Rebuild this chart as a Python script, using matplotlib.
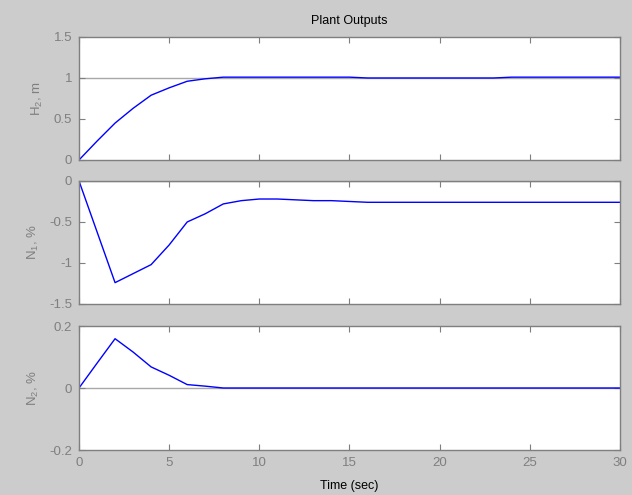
import matplotlib
matplotlib.use("Agg")
import matplotlib.pyplot as plt

# Simulated plant outputs, sampled each second
time_s = [0, 1, 2, 3, 4, 5, 6, 7, 8, 9, 10, 11, 12, 13, 14, 15, 16, 17, 18, 19, 20,
          21, 22, 23, 24, 25, 26, 27, 28, 29, 30]
h2_m = [0.0, 0.23, 0.45, 0.63, 0.79, 0.88, 0.96, 0.99, 1.01, 1.01, 1.01, 1.01, 1.01,
        1.01, 1.01, 1.01, 1.0, 1.0, 1.0, 1.0, 1.0, 1.0, 1.0, 1.0, 1.01, 1.01, 1.01,
        1.01, 1.01, 1.01, 1.01]
n1_pct = [0.0, -0.62, -1.24, -1.13, -1.02, -0.78, -0.50, -0.40, -0.28, -0.24, -0.22,
          -0.22, -0.23, -0.24, -0.24, -0.25, -0.26, -0.26, -0.26, -0.26, -0.26, -0.26,
          -0.26, -0.26, -0.26, -0.26, -0.26, -0.26, -0.26, -0.26, -0.26]
n2_pct = [0.0, 0.08, 0.159, 0.116, 0.068, 0.041, 0.011, 0.006, 0.0, 0.0, 0.0, 0.0,
          0.0, 0.0, 0.0, 0.0, 0.0, 0.0, 0.0, 0.0, 0.0, 0.0, 0.0, 0.0, 0.0, 0.0, 0.0,
          0.0, 0.0, 0.0, 0.0]

x_ticks = [0, 5, 10, 15, 20, 25, 30]
panels = [
    ("H$_2$, m", h2_m, (0, 1.5), [0, 0.5, 1, 1.5], ["0", "0.5", "1", "1.5"], 1.0),
    ("N$_1$, %", n1_pct, (-1.5, 0), [-1.5, -1, -0.5, 0], ["-1.5", "-1", "-0.5", "0"], 0.0),
    ("N$_2$, %", n2_pct, (-0.2, 0.2), [-0.2, 0, 0.2], ["-0.2", "0", "0.2"], 0.0),
]

bg = "#cccccc"
edge = "#7f7f7f"
plt.rcParams["font.family"] = ["Liberation Sans", "DejaVu Sans"]
plt.rcParams["font.size"] = 9.5
plt.rcParams["mathtext.fontset"] = "custom"
plt.rcParams["mathtext.rm"] = "Liberation Sans"
plt.rcParams["mathtext.it"] = "Liberation Sans"

fig = plt.figure(figsize=(6.32, 4.95), dpi=100, facecolor=bg)
boxes = [
    [0.125, 0.6768, 0.856, 0.2485],
    [0.125, 0.3859, 0.856, 0.2485],
    [0.125, 0.0909, 0.856, 0.2505],
]

axes = []
for box, (label, values, ylim, yt, ytl, ref) in zip(boxes, panels):
    ax = fig.add_axes(box)
    ax.set_facecolor("white")
    ax.axhline(ref, color="#a8a8a8", lw=1.0, zorder=1)
    ax.plot(time_s, values, color="#0000ff", lw=1.0, zorder=2)
    ax.set_xlim(0, 30)
    ax.set_ylim(*ylim)
    ax.set_xticks(x_ticks)
    ax.set_yticks(yt)
    ax.set_yticklabels(ytl)
    ax.set_ylabel(label, color=edge, labelpad=6)
    ax.tick_params(direction="in", length=4, width=0.8, color=edge,
                   labelcolor=edge, top=True, right=True, pad=5)
    for sp in ax.spines.values():
        sp.set_color(edge)
        sp.set_linewidth(1.0)
    axes.append(ax)

for ax in axes[:2]:
    ax.set_xticklabels([])

axes[0].set_title("Plant Outputs", color="black", fontsize=9, pad=9)
axes[2].set_xlabel("Time (sec)", color="black", fontsize=9, labelpad=8)

fig.savefig("out.png", dpi=100, facecolor=bg)
